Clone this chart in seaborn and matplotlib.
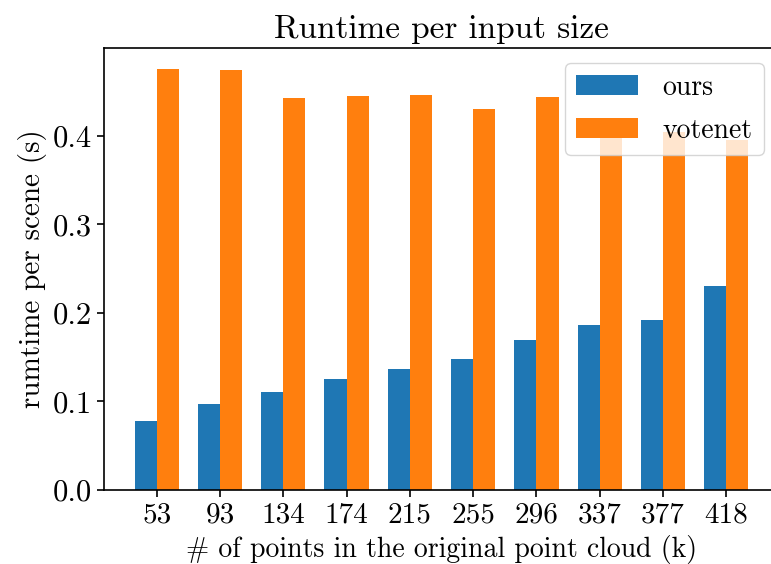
import matplotlib
matplotlib.use("Agg")
import matplotlib.pyplot as plt
import seaborn as sns
import pandas as pd

sizes = ["53", "93", "134", "174", "215", "255", "296", "337", "377", "418"]
ours = [0.0783, 0.0968, 0.1107, 0.1250, 0.1367, 0.1480, 0.1699, 0.1868, 0.1917, 0.2301]
votenet = [0.4756, 0.4740, 0.4426, 0.4456, 0.4460, 0.4310, 0.4445, 0.4100, 0.4050, 0.3960]
methods = ["ours", "votenet"]
colors = ["#1f77b4", "#ff7f0e"]

df = pd.DataFrame({
    "size": sizes * 2,
    "runtime": ours + votenet,
    "method": [methods[0]] * len(sizes) + [methods[1]] * len(sizes),
})

plt.rcParams.update({
    "font.family": "cmr10",
    "axes.formatter.use_mathtext": True,
    "mathtext.fontset": "cm",
    "font.size": 21,
    "axes.linewidth": 1.2,
    "xtick.major.size": 5.2,
    "ytick.major.size": 5.2,
    "xtick.major.width": 1.2,
    "ytick.major.width": 1.2,
})

fig = plt.figure(figsize=(7.71, 5.64), dpi=100)
ax = fig.add_axes([104 / 771, 1 - 490 / 564, (779 - 104) / 771, (490 - 48) / 564])

sns.barplot(data=df, x="size", y="runtime", hue="method", order=sizes,
            hue_order=methods, palette=colors, width=0.7, saturation=1,
            linewidth=0, ax=ax)

ax.set_xlim(-0.835, 9.835)
ax.set_ylim(0, 0.4994)
ax.spines["right"].set_visible(False)
ax.set_yticks([0.0, 0.1, 0.2, 0.3, 0.4])
ax.set_yticklabels(["0.0", "0.1", "0.2", "0.3", "0.4"], fontsize=22)
ax.set_xticks(range(len(sizes)))
ax.set_xticklabels(sizes, fontsize=21)
ax.set_title("Runtime per input size", fontsize=24, pad=7)
ax.set_xlabel("# of points in the original point cloud (k)", fontsize=20, labelpad=5)
ax.set_ylabel("rumtime per scene (s)", fontsize=21)
ax.legend(loc="upper right", fontsize=20, title=None, handlelength=2.2,
          handleheight=0.78, handletextpad=0.9, labelspacing=0.6,
          borderaxespad=0.55)

fig.savefig("out.png", dpi=100)
